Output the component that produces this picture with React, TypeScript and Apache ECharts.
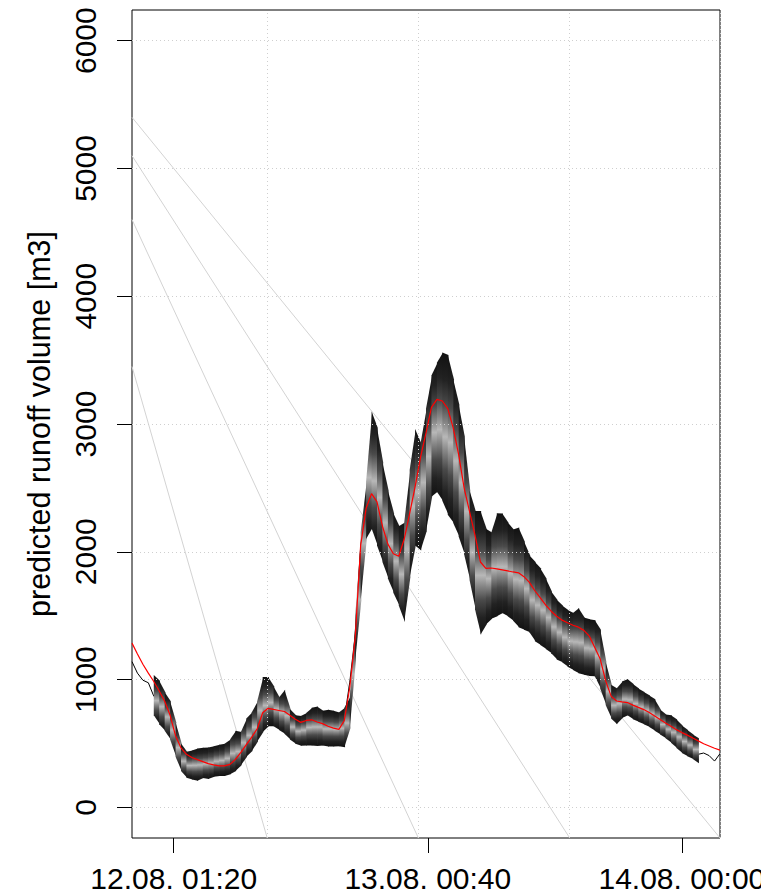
import React, { useEffect, useRef } from "react";
import * as echarts from "echarts";

// time axis: minutes relative to 12.08. 01:20
const START_MIN = -230;
const STEP_MIN = 30;
const X_MIN = -230;
const X_MAX = 3010;
const Y_MIN = -240;
const Y_MAX = 6240;

const xTickValues = [0, 1400, 2800];
const xTickLabels = ["12.08. 01:20", "13.08. 00:40", "14.08. 00:00"];
const yTickValues = [0, 1000, 2000, 3000, 4000, 5000, 6000];
const gridTimes = [515, 1348, 2182, 3010];
const rayStartValues = [3450, 4600, 5100, 5400];
const yTitle = "predicted runoff volume [m3]";

// red line (ensemble median), one value every 30 min from START_MIN
const medianValues = [
  1285, 1200, 1120, 1050, 985, 910, 830, 720, 560, 465,
  415, 390, 373, 358, 342, 332, 325, 324, 336, 375,
  430, 490, 550, 615, 740, 775, 766, 758, 750, 720,
  690, 665, 680, 685, 668, 655, 635, 620, 610, 680,
  940, 1330, 2050, 2340, 2455, 2390, 2200, 2060, 1985, 1965,
  2100, 2300, 2510, 2740, 2930, 3130, 3193, 3180, 3120, 2970,
  2760, 2500, 2315, 2130, 1920, 1870, 1873, 1866, 1858, 1850,
  1842, 1835, 1805, 1760, 1695, 1640, 1582, 1535, 1495, 1465,
  1445, 1425, 1410, 1385, 1340, 1250, 1160, 990, 870, 832,
  825, 820, 800, 782, 765, 742, 715, 688, 660, 635,
  608, 585, 565, 543, 520, 498, 480, 462, 448,
];

// black line (observed runoff), same time grid
const observedValues = [
  1140, 1050, 995, 975, 870, 880, 800, 700, 560, 470,
  420, 395, 375, 360, 345, 335, 328, 326, 340, 380,
  435, 495, 555, 620, 735, 770, 765, 755, 745, 715,
  690, 668, 678, 684, 668, 652, 634, 618, 608, 690,
  980, 1350, 2040, 2330, 2450, 2380, 2190, 2050, 1980, 1960,
  2090, 2290, 2500, 2730, 2920, 3110, 3180, 3170, 3110, 2960,
  2750, 2490, 2310, 2120, 1910, 1865, 1870, 1860, 1855, 1845,
  1838, 1830, 1800, 1755, 1690, 1635, 1578, 1530, 1490, 1460,
  1440, 1420, 1405, 1380, 1335, 1245, 1150, 985, 865, 828,
  822, 815, 797, 778, 760, 738, 710, 684, 656, 630,
  560, 520, 490, 450, 415, 425, 405, 362, 420,
];

// ensemble envelope, starting at time index 4
const bandStartIndex = 4;
const bandUpper = [
  1035, 990, 900, 830, 665, 500, 435, 445, 460, 466,
  468, 479, 490, 498, 531, 600, 590, 695, 745, 830,
  1020, 1020, 945, 860, 920, 770, 720, 715, 738, 779,
  790, 755, 763, 755, 742, 780, 865, 1500, 2150, 2550,
  3100, 2970, 2700, 2480, 2302, 2200, 2230, 2640, 2960, 2850,
  3120, 3380, 3480, 3560, 3540, 3350, 3150, 2900, 2480, 2320,
  2320, 2180, 2150, 2302, 2300, 2230, 2175, 2190, 2080, 1970,
  1920, 1870, 1790, 1690, 1625, 1580, 1545, 1520, 1560, 1485,
  1472, 1465, 1390, 1140, 960, 930, 985, 1005, 965, 930,
  903, 875, 846, 766, 727, 720, 688, 640, 605, 570,
  540,
];
const bandLower = [
  720, 650, 600, 530, 395, 285, 232, 218, 208, 230,
  222, 240, 245, 246, 258, 285, 330, 395, 440, 515,
  590, 635, 635, 605, 575, 531, 498, 481, 483, 484,
  480, 484, 476, 477, 478, 470, 620, 1150, 1620, 2100,
  2185, 2050, 1920, 1790, 1680, 1580, 1450, 1800, 2050, 2010,
  2160, 2430, 2470, 2400, 2290, 2225, 2120, 1980, 1780, 1550,
  1350, 1430, 1475, 1495, 1520, 1495, 1460, 1410, 1390, 1370,
  1300, 1270, 1240, 1205, 1156, 1135, 1100, 1075, 1050, 1038,
  1028, 1026, 930, 800, 695, 650, 700, 720, 690, 670,
  650, 628, 600, 570, 540, 505, 465, 425, 400, 378,
  345,
];

const FONT = "'Liberation Sans', Arial, Helvetica, sans-serif";
const W = 761;
const H = 893;

export default function App() {
  const ref = useRef<HTMLDivElement>(null);

  useEffect(() => {
    if (!ref.current) return;
    document.documentElement.style.overflow = "hidden";
    document.body.style.margin = "0";
    document.body.style.overflow = "hidden";
    const chart = echarts.init(ref.current, undefined, { renderer: "svg", width: W, height: H });

    const timeAt = (i: number) => START_MIN + i * STEP_MIN;
    const medianData = medianValues.map((v, i) => [timeAt(i), v]);
    const observedData = observedValues.map((v, i) => [timeAt(i), v]);

    const bandData: number[][] = [];
    for (let i = 0; i < bandUpper.length - 1; i++) {
      const k = bandStartIndex + i;
      bandData.push([timeAt(k), bandUpper[i], bandLower[i], timeAt(k + 1), bandUpper[i + 1], bandLower[i + 1]]);
    }

    const bandGradient = new echarts.graphic.LinearGradient(0, 0, 0, 1, [
      { offset: 0, color: "#111111" },
      { offset: 0.17, color: "#222222" },
      { offset: 0.32, color: "#4a4a4a" },
      { offset: 0.44, color: "#8a8a8a" },
      { offset: 0.52, color: "#b8b8b8" },
      { offset: 0.6, color: "#8a8a8a" },
      { offset: 0.72, color: "#4a4a4a" },
      { offset: 0.86, color: "#222222" },
      { offset: 1, color: "#111111" },
    ]);

    const raySeries = rayStartValues.map((v, i) => ({
      type: "line",
      data: [
        [X_MIN, v],
        [gridTimes[i], Y_MIN],
      ],
      symbol: "none",
      silent: true,
      z: 2,
      lineStyle: { color: "#d3d3d3", width: 1 },
    }));

    const option: any = {
      animation: false,
      grid: {
        left: 132,
        right: 41,
        top: 10,
        bottom: 55,
        show: true,
        borderColor: "#000",
        borderWidth: 1,
        backgroundColor: "transparent",
        containLabel: false,
        outerBoundsMode: "none",
      },
      xAxis: {
        type: "value",
        min: X_MIN,
        max: X_MAX,
        axisLine: { show: false, onZero: false },
        splitLine: { show: false },
        axisTick: {
          show: true,
          customValues: xTickValues,
          length: 15,
          lineStyle: { color: "#000", width: 1 },
        },
        axisLabel: {
          show: true,
          customValues: xTickValues,
          formatter: (val: number) => {
            const idx = xTickValues.indexOf(val);
            return idx >= 0 ? xTickLabels[idx] : "";
          },
          fontSize: 30,
          fontFamily: FONT,
          color: "#000",
          margin: 25,
        },
      },
      yAxis: {
        type: "value",
        min: Y_MIN,
        max: Y_MAX,
        axisLine: { show: false, onZero: false },
        splitLine: { show: false },
        axisTick: {
          show: true,
          customValues: yTickValues,
          length: 15,
          lineStyle: { color: "#000", width: 1 },
        },
        axisLabel: {
          show: true,
          customValues: yTickValues,
          formatter: (val: number) => String(val),
          rotate: 90,
          fontSize: 30,
          fontFamily: FONT,
          color: "#000",
          margin: 32,
        },
        name: yTitle,
        nameLocation: "middle",
        nameRotate: 90,
        nameGap: 78,
        nameTextStyle: { fontSize: 30.5, fontFamily: FONT, color: "#000" },
      },
      series: [
        ...raySeries,
        {
          type: "line",
          data: observedData,
          symbol: "none",
          silent: true,
          z: 3,
          lineStyle: { color: "#000", width: 1 },
          markLine: {
            silent: true,
            symbol: "none",
            label: { show: false },
            lineStyle: { color: "#cfcfcf", type: [1, 3], width: 1 },
            data: [
              ...yTickValues.map((v) => ({ yAxis: v })),
              ...gridTimes.map((t) => ({ xAxis: t })),
            ],
          },
        },
        {
          type: "custom",
          data: bandData,
          silent: true,
          clip: true,
          z: 4,
          encode: { x: [0, 3], y: [1, 2, 4, 5] },
          renderItem: (_params: any, api: any) => {
            const a = api.coord([api.value(0), api.value(1)]);
            const b = api.coord([api.value(3), api.value(4)]);
            const c = api.coord([api.value(3), api.value(5)]);
            const d = api.coord([api.value(0), api.value(2)]);
            return {
              type: "polygon",
              shape: {
                points: [
                  [a[0], a[1]],
                  [b[0] + 0.7, b[1]],
                  [c[0] + 0.7, c[1]],
                  [d[0], d[1]],
                ],
              },
              style: { fill: bandGradient, stroke: null },
            };
          },
        },
        {
          type: "line",
          data: medianData,
          symbol: "none",
          silent: true,
          z: 5,
          lineStyle: { color: "#ff0000", width: 1.2 },
        },
      ],
    };

    chart.setOption(option);
    return () => {
      chart.dispose();
    };
  }, []);

  return (
    <div style={{ position: "fixed", left: 0, top: 0, width: W, height: H, overflow: "hidden", background: "#fff" }}>
      <div ref={ref} style={{ width: W, height: H }} />
    </div>
  );
}
